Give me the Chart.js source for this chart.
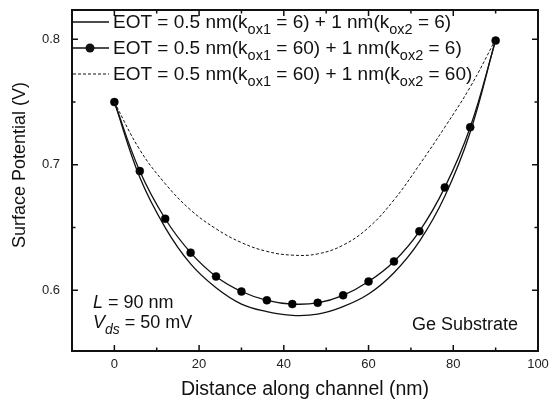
<!DOCTYPE html>
<html>
<head>
<meta charset="utf-8">
<script src="https://cdn.jsdelivr.net/npm/chart.js@4.4.1/dist/chart.umd.min.js"></script>
<style>
  html, body { margin: 0; padding: 0; background: #fff; }
  #wrap { width: 560px; height: 401px; }
</style>
</head>
<body>
<div id="wrap"><canvas id="chart"></canvas></div>
<script>
// distance along channel (nm)
const distance = [0, 6, 12, 18, 24, 30, 36, 42, 48, 54, 60, 66, 72, 78, 84, 90];
// surface potential (V)
const potK6K6 = [0.750, 0.690, 0.650, 0.621, 0.602, 0.589, 0.583, 0.580, 0.581, 0.587, 0.597, 0.614, 0.639, 0.675, 0.726, 0.800];
const potK60K6 = [0.750, 0.695, 0.657, 0.630, 0.611, 0.599, 0.592, 0.589, 0.590, 0.596, 0.607, 0.623, 0.647, 0.682, 0.730, 0.799];
const potK60K60 = [0.750, 0.712, 0.685, 0.664, 0.649, 0.638, 0.631, 0.628, 0.629, 0.636, 0.650, 0.672, 0.700, 0.730, 0.762, 0.800];

const xTicks = [0, 20, 40, 60, 80, 100];
const xMinor = [10, 30, 50, 70, 90];
const yTicks = [0.6, 0.7, 0.8];
const yMinor = [0.65, 0.75];

// legend text pieces: [normal, subscript, normal, subscript, normal]
const legendK6K6 = ['EOT = 0.5 nm(k', 'ox1', ' = 6) + 1 nm(k', 'ox2', ' = 6)'];
const legendK60K6 = ['EOT = 0.5 nm(k', 'ox1', ' = 60) + 1 nm(k', 'ox2', ' = 6)'];
const legendK60K60 = ['EOT = 0.5 nm(k', 'ox1', ' = 60) + 1 nm(k', 'ox2', ' = 60)'];

const FONT = '"Liberation Sans", Arial, sans-serif';
const INK = '#111';

const toPoints = ys => distance.map((x, i) => ({ x: x, y: ys[i] }));

function drawParts(ctx, parts, x, y, size, subSize) {
  ctx.textAlign = 'left';
  ctx.textBaseline = 'alphabetic';
  parts.forEach((p, i) => {
    const sub = i % 2 === 1;
    ctx.font = (sub ? subSize : size) + 'px ' + FONT;
    ctx.fillText(p, x, sub ? y + 6 : y);
    x += ctx.measureText(p).width;
  });
}

const framePlugin = {
  id: 'frame',
  afterDraw(chart) {
    const ctx = chart.ctx;
    const a = chart.chartArea;
    const xs = chart.scales.x;
    const ys = chart.scales.y;
    ctx.save();
    ctx.strokeStyle = INK;
    ctx.fillStyle = INK;

    // inward ticks on all sides
    ctx.lineWidth = 1.5;
    const tick = (vals, len) => {
      vals.forEach(v => {
        const px = xs.getPixelForValue(v);
        ctx.beginPath();
        ctx.moveTo(px, a.bottom); ctx.lineTo(px, a.bottom - len);
        ctx.moveTo(px, a.top); ctx.lineTo(px, a.top + len);
        ctx.stroke();
      });
    };
    tick(xTicks.filter(v => v < 100), 6);
    tick(xMinor, 3.5);
    const ytick = (vals, len) => {
      vals.forEach(v => {
        const py = ys.getPixelForValue(v);
        ctx.beginPath();
        ctx.moveTo(a.left, py); ctx.lineTo(a.left + len, py);
        ctx.moveTo(a.right, py); ctx.lineTo(a.right - len, py);
        ctx.stroke();
      });
    };
    ytick(yTicks, 6);
    ytick(yMinor, 3.5);

    // frame
    ctx.lineWidth = 2;
    ctx.strokeRect(a.left, a.top, a.right - a.left, a.bottom - a.top);

    // legend
    const rows = [
      { parts: legendK6K6, ds: 0 },
      { parts: legendK60K6, ds: 1 },
      { parts: legendK60K60, ds: 2 }
    ];
    const baselines = [28, 54, 80];
    rows.forEach((r, i) => {
      const meta = chart.data.datasets[r.ds];
      const ly = baselines[i] - 6;
      ctx.lineWidth = meta.borderWidth;
      ctx.setLineDash(meta.borderDash || []);
      ctx.beginPath();
      ctx.moveTo(a.left + 1, ly);
      ctx.lineTo(109, ly);
      ctx.stroke();
      ctx.setLineDash([]);
      if (meta.pointRadius > 0) {
        ctx.beginPath();
        ctx.arc(90, ly, meta.pointRadius + 0.5, 0, Math.PI * 2);
        ctx.fill();
      }
      drawParts(ctx, r.parts, 113, baselines[i], 19, 14.5);
    });

    // annotations
    ctx.textBaseline = 'alphabetic';
    ctx.textAlign = 'left';
    ctx.font = 'italic 18px ' + FONT;
    ctx.fillText('L', 93, 308);
    let w = ctx.measureText('L').width;
    ctx.font = '18px ' + FONT;
    ctx.fillText(' = 90 nm', 93 + w, 308);

    ctx.font = 'italic 18px ' + FONT;
    ctx.fillText('V', 93, 328);
    w = ctx.measureText('V').width;
    ctx.font = 'italic 14px ' + FONT;
    ctx.fillText('ds', 93 + w, 334);
    w += ctx.measureText('ds').width;
    ctx.font = '18px ' + FONT;
    ctx.fillText(' = 50 mV', 93 + w, 328);

    ctx.textAlign = 'right';
    ctx.fillText('Ge Substrate', 518, 330);

    // y axis title
    ctx.translate(20, 165);
    ctx.rotate(-Math.PI / 2);
    ctx.textAlign = 'center';
    ctx.textBaseline = 'middle';
    ctx.fillText('Surface Potential (V)', 0, 0);
    ctx.restore();
  }
};

new Chart(document.getElementById('chart').getContext('2d'), {
  type: 'line',
  data: {
    datasets: [
      {
        label: legendK6K6.join(''),
        data: toPoints(potK6K6),
        borderColor: INK,
        borderWidth: 1.3,
        pointRadius: 0,
        tension: 0.4,
        fill: false
      },
      {
        label: legendK60K6.join(''),
        data: toPoints(potK60K6),
        borderColor: INK,
        backgroundColor: '#000',
        borderWidth: 1.3,
        pointRadius: 4,
        pointBackgroundColor: '#000',
        pointBorderColor: '#000',
        pointBorderWidth: 0.5,
        tension: 0.4,
        fill: false
      },
      {
        label: legendK60K60.join(''),
        data: toPoints(potK60K60),
        borderColor: INK,
        borderWidth: 1,
        borderDash: [3, 2],
        pointRadius: 0,
        tension: 0.4,
        fill: false
      }
    ]
  },
  options: {
    responsive: true,
    maintainAspectRatio: false,
    animation: false,
    devicePixelRatio: 1,
    layout: { padding: { top: 10, right: 22, left: 0, bottom: 0 } },
    plugins: {
      legend: { display: false },
      tooltip: { enabled: false }
    },
    scales: {
      x: {
        type: 'linear',
        min: -10,
        max: 100,
        afterBuildTicks: s => { s.ticks = xTicks.map(v => ({ value: v })); },
        afterFit: s => { s.height = 50; },
        grid: { display: false, drawTicks: false },
        border: { display: false },
        ticks: { color: '#222', padding: 6, font: { family: FONT, size: 13 } },
        title: {
          display: true,
          text: 'Distance along channel (nm)',
          color: INK,
          font: { family: FONT, size: 19.5 },
          padding: { top: 0, bottom: 0 }
        }
      },
      y: {
        type: 'linear',
        min: 0.5516,
        max: 0.8234,
        afterBuildTicks: s => { s.ticks = yTicks.map(v => ({ value: v })); },
        afterFit: s => { s.width = 72; s.paddingTop = 0; s.paddingBottom = 0; },
        grid: { display: false, drawTicks: false },
        border: { display: false },
        ticks: {
          color: '#222',
          padding: 12,
          font: { family: FONT, size: 13 },
          callback: v => v.toFixed(1)
        }
      }
    }
  },
  plugins: [framePlugin]
});
</script>
</body>
</html>
